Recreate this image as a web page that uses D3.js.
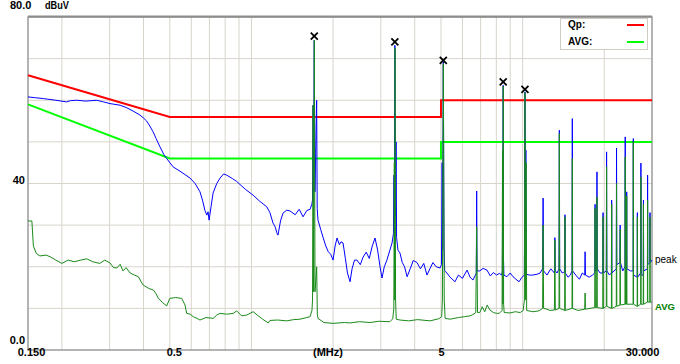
<!DOCTYPE html>
<html>
<head>
<meta charset="utf-8">
<script src="https://cdn.jsdelivr.net/npm/d3@7"></script>
<style>
  body { margin: 0; background: #fff; }
  text { font-family: "Liberation Sans", Arial, sans-serif; }
</style>
</head>
<body>
<div id="chart"></div>
<script>
// axis ticks
const xLabels = [0.15, 0.5, 5, 30];
const gridFreqs = [0.2, 0.3, 0.4, 0.5, 0.6, 0.7, 0.8, 0.9, 1, 2, 3, 4, 5, 6, 7, 8, 9, 10, 20];
const gridLevels = [10, 20, 30, 40, 50, 60, 70];

// limit lines [MHz, dBuV]
const qpLimit = [[0.15, 66], [0.5, 56], [5, 56], [5, 60], [30, 60]];
const avgLimit = [[0.15, 59], [0.5, 46], [5, 46], [5, 50], [30, 50]];

// marked peaks (x marks)
const markerFreq = [1.705, 3.38, 5.10, 8.48, 10.2];
const markerLevel = [75.4, 74.0, 69.6, 64.4, 62.6];

// peak detector trace [MHz, dBuV]
const peakTrace = [
  [0.150, 60.8], [0.160, 60.6], [0.171, 60.4], [0.190, 60.0], [0.208, 59.6], [0.215, 59.9],
  [0.227, 60.0], [0.245, 59.8], [0.269, 60.0], [0.285, 59.6], [0.301, 59.2], [0.328, 58.8],
  [0.347, 58.2], [0.366, 57.4], [0.385, 56.6], [0.399, 55.8], [0.411, 55.0], [0.422, 53.8],
  [0.434, 52.4], [0.445, 50.8], [0.460, 48.8], [0.475, 47.0], [0.487, 46.0], [0.514, 44.0],
  [0.550, 42.8], [0.594, 41.3], [0.620, 40.0], [0.646, 38.0], [0.660, 36.0], [0.674, 33.5],
  [0.685, 32.4], [0.692, 33.2], [0.698, 31.2], [0.710, 34.5], [0.722, 37.7], [0.745, 40.0],
  [0.766, 41.3], [0.790, 42.3], [0.811, 42.0], [0.850, 41.2], [0.882, 40.5], [0.950, 38.6],
  [1.014, 37.2], [1.070, 35.8], [1.139, 34.4], [1.170, 33.0], [1.201, 30.5], [1.225, 29.5],
  [1.240, 28.2], [1.253, 27.6], [1.280, 31.0], [1.308, 32.9], [1.350, 33.6], [1.388, 33.4],
  [1.450, 32.5], [1.500, 33.8], [1.550, 32.0], [1.600, 33.5], [1.645, 33.8], [1.670, 35.0],
  [1.680, 36.0], [1.688, 58.8], [1.695, 38.0], [1.705, 74.4], [1.715, 38.0], [1.740, 60.0],
  [1.748, 34.0], [1.760, 31.2], [1.800, 29.0], [1.836, 27.1], [1.880, 25.0], [1.920, 23.6],
  [1.960, 23.0], [2.000, 21.6], [2.035, 25.0], [2.069, 26.9], [2.110, 25.3], [2.140, 26.0],
  [2.177, 25.7], [2.220, 22.0], [2.260, 18.5], [2.310, 16.4], [2.350, 19.5], [2.400, 21.6],
  [2.450, 21.6], [2.520, 20.5], [2.580, 22.3], [2.650, 23.5], [2.720, 22.0], [2.790, 25.0],
  [2.856, 26.9], [2.920, 24.0], [2.980, 20.0], [3.030, 17.3], [3.090, 20.0], [3.160, 21.6],
  [3.240, 24.0], [3.300, 25.7], [3.340, 28.0], [3.355, 42.0], [3.365, 30.0], [3.380, 73.2],
  [3.400, 32.0], [3.415, 50.0], [3.430, 27.0], [3.470, 24.0], [3.530, 23.3], [3.600, 21.0],
  [3.670, 20.0], [3.750, 17.6], [3.850, 19.5], [3.950, 21.5], [4.080, 21.0], [4.200, 19.5],
  [4.320, 20.8], [4.440, 18.0], [4.550, 19.5], [4.670, 21.0], [4.800, 20.0], [4.960, 19.7],
  [5.020, 20.5], [5.050, 45.0], [5.070, 24.0], [5.100, 69.2], [5.130, 25.0], [5.160, 19.0],
  [5.260, 18.5], [5.400, 17.5], [5.630, 16.4], [5.800, 18.0], [6.000, 17.2], [6.240, 19.2],
  [6.400, 17.5], [6.560, 16.8], [6.700, 18.0], [6.750, 18.5], [6.770, 38.2], [6.790, 19.0],
  [6.950, 19.0], [7.150, 19.6], [7.390, 19.2], [7.600, 17.8], [7.800, 18.6], [8.020, 18.0],
  [8.200, 18.4], [8.380, 18.0], [8.420, 19.0], [8.450, 44.0], [8.465, 22.0], [8.480, 63.6],
  [8.500, 22.0], [8.530, 18.0], [8.750, 17.6], [9.000, 18.5], [9.220, 17.6], [9.450, 17.0],
  [9.700, 16.4], [9.950, 17.5], [10.15, 18.0], [10.20, 62.0], [10.25, 28.0], [10.28, 48.0],
  [10.31, 18.2], [10.60, 18.0], [10.90, 18.0], [11.30, 18.2], [11.60, 18.5], [11.85, 19.5],
  [11.90, 36.5], [11.95, 19.0], [12.30, 18.0], [12.70, 19.5], [13.10, 18.5], [13.15, 27.0],
  [13.20, 19.0], [13.40, 18.5], [13.62, 19.5], [13.66, 52.8], [13.70, 19.5], [14.00, 18.5],
  [14.29, 18.8], [14.33, 32.5], [14.37, 18.5], [14.70, 17.5], [15.00, 18.0], [15.21, 19.0],
  [15.25, 55.6], [15.29, 19.0], [15.70, 18.0], [16.20, 17.0], [16.60, 18.5], [16.95, 18.0],
  [17.00, 23.6], [17.05, 18.0], [17.60, 17.5], [18.10, 18.0], [18.45, 18.5], [18.50, 35.0],
  [18.55, 19.0], [18.75, 19.0], [18.80, 42.8], [18.85, 19.5], [19.30, 18.5], [19.75, 18.5],
  [19.80, 33.0], [19.85, 18.5], [20.35, 19.0], [20.40, 47.6], [20.45, 19.0], [20.90, 18.0],
  [21.25, 18.5], [21.30, 36.0], [21.35, 18.5], [22.15, 19.5], [22.20, 48.5], [22.25, 20.5],
  [22.85, 21.0], [22.90, 30.0], [22.95, 21.0], [23.40, 19.0], [23.85, 20.0], [23.90, 51.2],
  [23.95, 20.0], [24.15, 20.0], [24.20, 38.0], [24.25, 19.5], [25.00, 19.0], [25.55, 19.0],
  [25.60, 50.8], [25.65, 18.0], [26.45, 17.5], [26.50, 33.0], [26.55, 17.5], [27.25, 18.5],
  [27.30, 44.9], [27.35, 18.0], [27.85, 18.0], [27.90, 36.0], [27.95, 19.0], [28.85, 19.5],
  [28.90, 42.0], [28.95, 20.5], [29.45, 21.0], [29.50, 33.0], [29.55, 21.0], [30.00, 21.6]
];

// average detector trace [MHz, dBuV]
const avgTrace = [
  [0.150, 31.0], [0.155, 31.0], [0.157, 25.0], [0.161, 23.2], [0.166, 22.6], [0.175, 22.8],
  [0.181, 22.4], [0.190, 21.6], [0.200, 20.8], [0.211, 21.6], [0.222, 21.2], [0.235, 21.6],
  [0.247, 21.9], [0.260, 21.2], [0.276, 20.8], [0.288, 21.6], [0.301, 20.9], [0.310, 19.8],
  [0.319, 19.7], [0.328, 20.6], [0.336, 19.0], [0.345, 19.8], [0.357, 18.5], [0.370, 18.0],
  [0.383, 17.6], [0.392, 16.4], [0.399, 15.6], [0.418, 14.8], [0.435, 14.4], [0.445, 13.5],
  [0.453, 12.5], [0.470, 11.4], [0.487, 10.6], [0.500, 12.4], [0.525, 12.6], [0.553, 12.4],
  [0.569, 10.8], [0.577, 8.8], [0.595, 8.6], [0.610, 8.0], [0.630, 7.6], [0.646, 7.2],
  [0.680, 7.8], [0.723, 7.6], [0.745, 8.4], [0.766, 8.8], [0.810, 8.6], [0.857, 8.8],
  [0.882, 9.4], [0.920, 8.2], [0.961, 8.4], [1.015, 9.2], [1.060, 8.2], [1.100, 7.4],
  [1.154, 6.5], [1.170, 7.1], [1.250, 7.2], [1.350, 7.0], [1.430, 7.3], [1.510, 7.4],
  [1.600, 7.8], [1.645, 8.0], [1.672, 9.5], [1.680, 12.0], [1.688, 58.8], [1.696, 14.0],
  [1.705, 74.4], [1.716, 14.0], [1.740, 20.0], [1.750, 8.6], [1.760, 7.6], [1.850, 6.6],
  [2.000, 6.4], [2.200, 6.6], [2.310, 6.5], [2.500, 6.8], [2.740, 6.6], [2.950, 6.9],
  [3.240, 6.8], [3.320, 7.5], [3.350, 10.0], [3.365, 45.0], [3.375, 12.0], [3.385, 72.6],
  [3.400, 12.0], [3.420, 7.4], [3.530, 7.2], [3.800, 7.0], [4.100, 7.3], [4.560, 7.0],
  [4.900, 7.5], [5.030, 8.0], [5.060, 12.0], [5.100, 68.8], [5.140, 12.0], [5.180, 7.6],
  [5.400, 7.4], [5.800, 7.8], [6.100, 8.0], [6.400, 8.2], [6.550, 8.5], [6.720, 9.0],
  [6.770, 29.6], [6.820, 9.0], [6.950, 9.0], [7.100, 10.4], [7.250, 9.2], [7.400, 10.8],
  [7.580, 9.6], [7.800, 9.0], [8.020, 8.8], [8.200, 8.8], [8.400, 9.5], [8.430, 48.0],
  [8.455, 11.0], [8.480, 63.4], [8.510, 11.0], [8.550, 9.0], [8.990, 8.9], [9.400, 9.2],
  [9.800, 9.0], [10.05, 9.5], [10.15, 12.0], [10.20, 61.8], [10.25, 12.0], [10.30, 45.0],
  [10.35, 9.5], [10.90, 9.2], [11.50, 9.4], [11.85, 10.0], [11.90, 30.0], [11.95, 10.0],
  [12.30, 9.8], [12.60, 9.5], [13.10, 9.6], [13.15, 26.4], [13.20, 9.6], [13.62, 10.0],
  [13.66, 52.0], [13.70, 10.0], [14.29, 9.5], [14.33, 32.0], [14.37, 9.5], [15.21, 10.0],
  [15.25, 46.0], [15.29, 10.0], [16.00, 9.5], [16.95, 9.8], [17.00, 13.7], [17.05, 9.8],
  [18.45, 10.2], [18.50, 34.0], [18.55, 10.2], [18.75, 10.2], [18.80, 36.8], [18.85, 10.2],
  [19.75, 10.0], [19.80, 32.0], [19.85, 10.0], [20.35, 10.5], [20.40, 44.0], [20.45, 10.5],
  [21.25, 10.0], [21.30, 35.0], [21.35, 10.0], [22.15, 10.5], [22.20, 40.0], [22.25, 10.5],
  [22.85, 10.8], [22.90, 29.0], [22.95, 10.8], [23.85, 11.0], [23.90, 46.4], [23.95, 11.0],
  [24.15, 11.0], [24.20, 37.0], [24.25, 11.0], [25.55, 11.0], [25.60, 50.0], [25.65, 11.0],
  [26.45, 10.5], [26.50, 32.0], [26.55, 10.5], [27.25, 11.0], [27.30, 41.6], [27.35, 11.0],
  [27.85, 11.0], [27.90, 35.0], [27.95, 11.0], [28.85, 11.5], [28.90, 36.0], [28.95, 11.5],
  [29.45, 11.5], [29.50, 32.0], [29.55, 11.5], [30.00, 11.5]
];

const width = 680, height = 364;
const margin = { top: 17, right: 28, bottom: 14, left: 28 };

const svg = d3.select("#chart").append("svg")
  .attr("width", width)
  .attr("height", height);

const x = d3.scaleLog()
  .domain([0.15, 30])
  .range([margin.left, width - margin.right]);

const y = d3.scaleLinear()
  .domain([0, 80])
  .range([height - margin.bottom, margin.top]);

// grid
svg.append("g").selectAll("line")
  .data(gridFreqs)
  .join("line")
    .attr("x1", d => x(d)).attr("x2", d => x(d))
    .attr("y1", y(80)).attr("y2", y(0))
    .attr("stroke", "#d8d4cc");

svg.append("g").selectAll("line")
  .data(gridLevels)
  .join("line")
    .attr("x1", x(0.15)).attr("x2", x(30))
    .attr("y1", d => y(d)).attr("y2", d => y(d))
    .attr("stroke", "#d8d4cc");

// frame
svg.append("rect")
  .attr("x", x(0.15)).attr("y", y(80))
  .attr("width", x(30) - x(0.15)).attr("height", y(0) - y(80))
  .attr("fill", "none").attr("stroke", "#8c8c8c").attr("stroke-width", 1.3);
svg.append("line")
  .attr("x1", x(0.15)).attr("x2", x(30))
  .attr("y1", y(80) - 0.5).attr("y2", y(80) - 0.5)
  .attr("stroke", "#8c8c8c").attr("stroke-width", 2);

const line = d3.line().x(d => x(d[0])).y(d => y(d[1]));

// limits
svg.append("path").datum(qpLimit)
  .attr("d", line).attr("fill", "none")
  .attr("stroke", "#ff0000").attr("stroke-width", 2);
svg.append("path").datum(avgLimit)
  .attr("d", line).attr("fill", "none")
  .attr("stroke", "#00ff00").attr("stroke-width", 2);

// traces
svg.append("path").datum(peakTrace)
  .attr("d", line).attr("fill", "none")
  .attr("stroke", "#0000ff").attr("stroke-width", 1);
svg.append("path").datum(avgTrace)
  .attr("d", line).attr("fill", "none")
  .attr("stroke", "#1a8a1a").attr("stroke-width", 1);

// x marks
svg.append("g").selectAll("path")
  .data(markerFreq)
  .join("path")
    .attr("transform", (d, i) => `translate(${x(d)},${y(markerLevel[i])})`)
    .attr("d", "M-3.5,-3.5L3.5,3.5M-3.5,3.5L3.5,-3.5")
    .attr("stroke", "#000").attr("stroke-width", 1.8);

// x axis labels
const xAxis = svg.append("g")
  .attr("transform", `translate(0,${height - 11})`)
  .call(d3.axisBottom(x).tickValues(xLabels).tickSize(0)
    .tickFormat(d => d === 0.15 ? "0.150" : d === 30 ? "30.000" : d3.format("")(d)));
xAxis.select(".domain").remove();
xAxis.selectAll("text")
  .attr("dy", 0).attr("y", 0)
  .attr("dx", d => d === 0.15 ? 3 : d === 0.5 ? 4 : d === 30 ? -10 : 0)
  .attr("font-size", 11).attr("font-weight", "bold").attr("fill", "#000")
  .attr("dominant-baseline", "middle")
  .style("font-family", "'Liberation Sans', Arial, sans-serif");

svg.append("text")
  .attr("x", 328).attr("y", height - 11)
  .attr("text-anchor", "middle").attr("dominant-baseline", "middle")
  .attr("font-size", 11).attr("font-weight", "bold")
  .text("(MHz)");

// y labels
svg.append("text")
  .attr("x", 10).attr("y", 6)
  .attr("dominant-baseline", "middle")
  .attr("font-size", 11).attr("font-weight", "bold")
  .text("80.0");
svg.append("text")
  .attr("x", 45).attr("y", 6)
  .attr("dominant-baseline", "middle")
  .attr("font-size", 11).attr("font-weight", "bold")
  .attr("textLength", 24).attr("lengthAdjust", "spacingAndGlyphs")
  .text("dBuV");
svg.append("text")
  .attr("x", 25).attr("y", y(40) - 2)
  .attr("text-anchor", "end").attr("dominant-baseline", "middle")
  .attr("font-size", 11).attr("font-weight", "bold")
  .text("40");
svg.append("text")
  .attr("x", 25).attr("y", y(0) - 9)
  .attr("text-anchor", "end").attr("dominant-baseline", "middle")
  .attr("font-size", 11).attr("font-weight", "bold")
  .text("0.0");

// trace end labels
svg.append("text")
  .attr("x", 655).attr("y", 260)
  .attr("dominant-baseline", "middle")
  .attr("font-size", 10)
  .text("peak");
svg.append("text")
  .attr("x", 655).attr("y", 307)
  .attr("dominant-baseline", "middle")
  .attr("font-size", 9.5).attr("font-weight", "bold")
  .attr("fill", "#008000")
  .text("AVG");

// legend
const legend = svg.append("g");
legend.append("rect")
  .attr("x", 560.5).attr("y", 18.5)
  .attr("width", 87).attr("height", 31)
  .attr("fill", "#fff").attr("stroke", "#d0ccc4");
const legendItems = [["Qp:", "#ff0000"], ["AVG:", "#00ff00"]];
legendItems.forEach(([label, color], i) => {
  legend.append("text")
    .attr("x", 568).attr("y", 25 + i * 17)
    .attr("dominant-baseline", "middle")
    .attr("font-size", 10).attr("font-weight", "bold")
    .text(label);
  legend.append("line")
    .attr("x1", 627).attr("x2", 644)
    .attr("y1", 25 + i * 17).attr("y2", 25 + i * 17)
    .attr("stroke", color).attr("stroke-width", 2);
});
</script>
</body>
</html>
